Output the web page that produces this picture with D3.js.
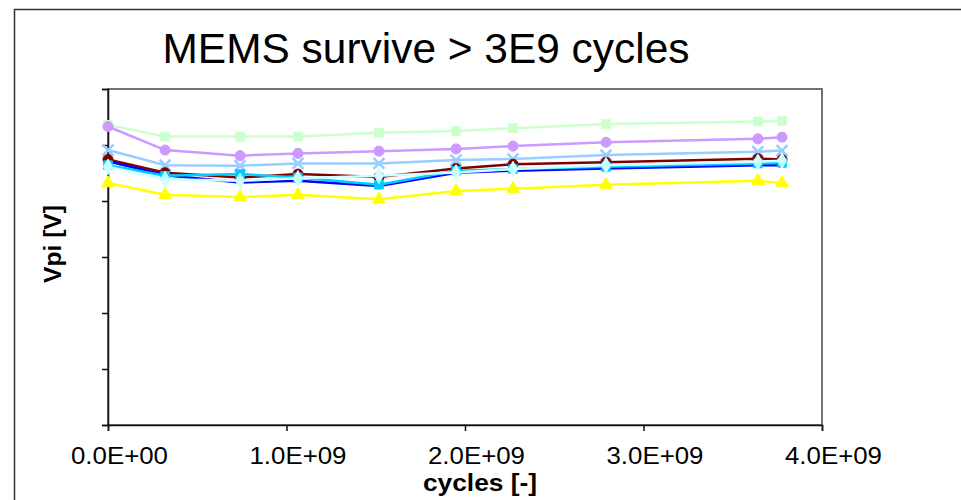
<!DOCTYPE html>
<html><head><meta charset="utf-8">
<script src="https://cdn.jsdelivr.net/npm/d3@7"></script>
<style>body{margin:0;background:#fff}svg{display:block}</style>
</head><body>
<script>
const cycles = [0, 0.32e9, 0.74e9, 1.064e9, 1.518e9, 1.95e9, 2.269e9, 2.79e9, 3.641e9, 3.776e9];
const green  = [53.6, 51.5, 51.5, 51.5, 52.2, 52.5, 53.0, 53.75, 54.2, 54.3];
const purple = [53.3, 49.1, 48.1, 48.5, 48.9, 49.3, 49.8, 50.5, 51.1, 51.4];
const ltblue = [49.1, 46.4, 46.3, 46.7, 46.7, 47.3, 47.5, 48.2, 48.8, 49.0];
const darkred= [47.4, 45.05, 44.2, 44.8, 44.3, 45.8, 46.55, 46.9, 47.55, 47.4];
const blue   = [47.1, 44.6, 43.3, 43.6, 42.7, 45.05, 45.4, 45.8, 46.4, 46.4];
const cyan   = [46.4, 44.5, 44.8, 44.2, 42.9, 45.4, 45.7, 46.1, 46.7, 46.8];
const pale   = [46.1, 43.9, 43.6, 44.05, 44.5, 45.1, 45.7, 46.4, 47.0, 47.2];
const yellow = [43.2, 41.1, 40.7, 41.1, 40.3, 41.8, 42.2, 42.9, 43.6, 43.2];
const xTicks = [0, 1e9, 2e9, 3e9, 4e9];
const yTicks = [0, 10, 20, 30, 40, 50, 60];

const series = [
  {vals: green,  color: "#ccffcc", marker: "square"},
  {vals: purple, color: "#cc99ff", marker: "circle"},
  {vals: ltblue, color: "#99ccff", marker: "x"},
  {vals: yellow, color: "#ffff00", marker: "triangle"},
  {vals: darkred,color: "#800000", marker: "circle"},
  {vals: blue,   color: "#0000ff", marker: "none"},
  {vals: cyan,   color: "#00ccff", marker: "square"},
  {vals: pale,   color: "#ccffff", marker: "diamond"}
];

const W = 961, H = 500;
const FONT = "Liberation Sans, Arial, Helvetica, sans-serif";
const svg = d3.select("body").append("svg").attr("width", W).attr("height", H);
svg.append("rect").attr("x", 14.5).attr("y", 9.5).attr("width", 960).attr("height", 600)
  .attr("fill", "#fff").attr("stroke", "#333").attr("stroke-width", 1.5);

const L = 108, R = 822, T = 89, B = 425;
const x = d3.scaleLinear().domain([0, 4e9]).range([L, R]);
const y = d3.scaleLinear().domain([0, 60]).range([B, T]);

svg.append("rect").attr("x", L).attr("y", T).attr("width", R - L).attr("height", B - T)
  .attr("fill", "none").attr("stroke", "#444").attr("stroke-width", 1.5);

const fmt = d => { if (d === 0) return "0.0E+00"; const e = Math.floor(Math.log10(d)); return (d / Math.pow(10, e)).toFixed(1) + "E+" + String(e).padStart(2, "0"); };

const xAxis = svg.append("g").attr("transform", `translate(0,${B})`)
  .call(d3.axisBottom(x).tickValues(xTicks).tickFormat(fmt).tickSize(6).tickPadding(17));
xAxis.select(".domain").attr("stroke", "#111").attr("stroke-width", 1.5);
xAxis.selectAll(".tick line").attr("stroke", "#111").attr("stroke-width", 1.5);
xAxis.selectAll("text").attr("font-family", FONT).attr("font-size", 23).attr("fill", "#000")
  .attr("dx", 11).attr("textLength", 97).attr("lengthAdjust", "spacingAndGlyphs");

const yAxis = svg.append("g").attr("transform", `translate(${L},0)`)
  .call(d3.axisLeft(y).tickValues(yTicks).tickFormat("").tickSize(6));
yAxis.select(".domain").attr("stroke", "#111").attr("stroke-width", 1.5);
yAxis.selectAll(".tick line").attr("stroke", "#111").attr("stroke-width", 1.5);

const line = d3.line().x((d, i) => x(cycles[i])).y(d => y(d));
const sym = {square: d3.symbolSquare, circle: d3.symbolCircle, triangle: d3.symbolTriangle, diamond: d3.symbolDiamond, x: d3.symbolX};
const size = {square: 75, circle: 80, triangle: 70, diamond: 70, x: 80};

series.forEach(s => {
  const g = svg.append("g");
  g.append("path").attr("d", line(s.vals)).attr("fill", "none").attr("stroke", s.color).attr("stroke-width", 2.5);
  if (s.marker !== "none") {
    g.selectAll("path.m").data(s.vals).join("path").attr("class", "m")
      .attr("transform", (d, i) => `translate(${x(cycles[i])},${y(d)})`)
      .attr("d", d3.symbol().type(sym[s.marker]).size(size[s.marker]))
      .attr("fill", s.marker === "x" ? "none" : s.color)
      .attr("stroke", s.color).attr("stroke-width", s.marker === "x" ? 2.5 : 1);
  }
});

svg.append("text").attr("x", 426).attr("y", 63).attr("text-anchor", "middle")
  .attr("font-family", FONT).attr("font-size", 43).attr("fill", "#000")
  .attr("textLength", 527).attr("lengthAdjust", "spacingAndGlyphs")
  .text("MEMS survive > 3E9 cycles");
svg.append("text").attr("x", 480).attr("y", 491).attr("text-anchor", "middle")
  .attr("font-family", FONT).attr("font-size", 23).attr("font-weight", "bold")
  .attr("textLength", 114).attr("lengthAdjust", "spacingAndGlyphs")
  .text("cycles [-]");
svg.append("text").attr("transform", "translate(61,244) rotate(-90)").attr("text-anchor", "middle")
  .attr("font-family", FONT).attr("font-size", 23).attr("font-weight", "bold")
  .attr("textLength", 78).attr("lengthAdjust", "spacingAndGlyphs")
  .text("Vpi [V]");
</script>
</body></html>
